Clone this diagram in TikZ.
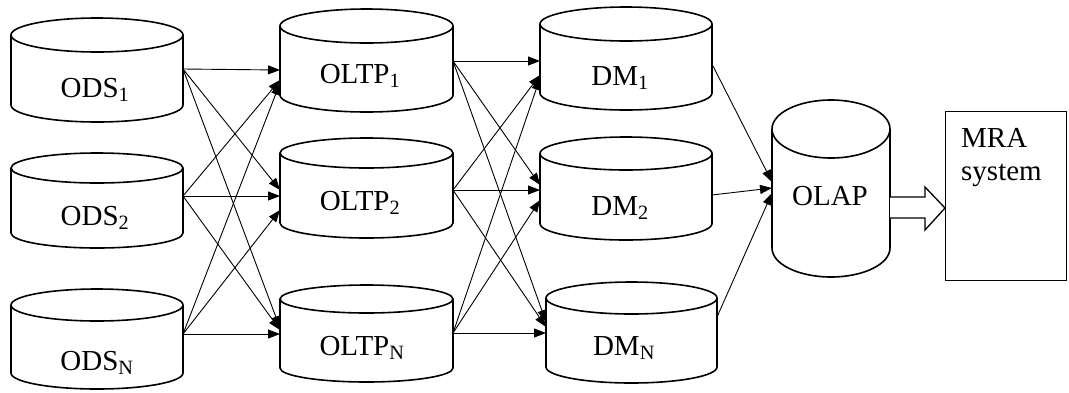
\documentclass[tikz,border=0pt]{standalone}
\usepackage{fontspec}
\setmainfont{Liberation Serif}
\usetikzlibrary{arrows.meta}
\tikzset{
  cylline/.style={line width=1.6pt, draw=black, fill=white},
  conn/.style={line width=0.9pt, -{Triangle[length=12pt,width=9pt]}},
  lbl/.style={font=\fontsize{29}{33}\selectfont, inner sep=0pt, anchor=base},
  pics/dbcyl/.style n args={3}{code={
    \path[cylline] (-#1,{-#2+#3}) -- (-#1,{#2-#3})
      .. controls (-#1,{#2-#3+0.5523*#3}) and ({-0.5523*#1},#2) .. (0,#2)
      .. controls ({0.5523*#1},#2) and (#1,{#2-#3+0.5523*#3}) .. (#1,{#2-#3})
      -- (#1,{-#2+#3});
    \draw[cylline] (0,{-#2+#3}) ellipse [x radius=#1, y radius=#3];
  }}
}
\begin{document}
\begin{tikzpicture}[x=1pt,y=-1pt]
\useasboundingbox (0,0) rectangle (1069,392);
% cylinders
\pic (cods1) at (97,70) {dbcyl={86}{52}{17}};
\pic (cods2) at (97,200.5) {dbcyl={86}{47.5}{15}};
\pic (codsn) at (97,339) {dbcyl={86}{50}{16}};
\pic (coltp1) at (366.5,60.5) {dbcyl={86.5}{51.5}{17}};
\pic (coltp2) at (366.5,188) {dbcyl={86.5}{50}{15}};
\pic (coltpn) at (366.5,333.5) {dbcyl={86.5}{48.5}{14}};
\pic (cdm1) at (626,58.5) {dbcyl={86}{51.5}{17}};
\pic (cdm2) at (626,188.5) {dbcyl={86}{51.5}{16.5}};
\pic (cdmn) at (631.5,332.5) {dbcyl={85.5}{50.5}{16}};
\pic (colap) at (831,188.5) {dbcyl={59}{88.5}{29}};
% labels
\node[lbl] (ods1) at (95,97) {ODS\textsubscript{1}};
\node[lbl] (ods2) at (95,225) {ODS\textsubscript{2}};
\node[lbl] (odsn) at (97,370) {ODS\textsubscript{N}};
\node[lbl] (oltp1) at (360,83) {OLTP\textsubscript{1}};
\node[lbl] (oltp2) at (360,210) {OLTP\textsubscript{2}};
\node[lbl] (oltpn) at (362,355) {OLTP\textsubscript{N}};
\node[lbl] (dm1) at (620,85) {DM\textsubscript{1}};
\node[lbl] (dm2) at (620,215) {DM\textsubscript{2}};
\node[lbl] (dmn) at (624,355) {DM\textsubscript{N}};
\node[lbl] (olap) at (830,205) {OLAP};
% MRA box
\node[draw, line width=1pt, minimum width=121pt, minimum height=169pt, anchor=north west, inner sep=0pt] (mrabox) at (945,111) {};
\node[lbl, anchor=base west, align=left] (mra) at (961,180) {MRA\\system};
% connector points
\coordinate (s1) at (183,69);
\coordinate (s2) at (183,196);
\coordinate (sn) at (183,334);
\coordinate (t11) at (280,70);  \coordinate (t12) at (280,80);  \coordinate (t1n) at (280,83);
\coordinate (t21) at (280,190); \coordinate (t22) at (280,196); \coordinate (t2n) at (280,210);
\coordinate (tn1) at (280,328); \coordinate (tn2) at (280,330); \coordinate (tnn) at (280,334);
\coordinate (p1) at (453,61);
\coordinate (p2) at (453,190);
\coordinate (pn) at (453,333);
\coordinate (d11) at (540,61);  \coordinate (d12) at (540,75);  \coordinate (d1n) at (540,78);
\coordinate (d21) at (540,185); \coordinate (d22) at (540,190); \coordinate (d2n) at (540,200);
\coordinate (dn1) at (546,322); \coordinate (dn2) at (546,327); \coordinate (dnn) at (546,333);
\coordinate (m1) at (713,66);
\coordinate (m2) at (712,195);
\coordinate (mn) at (717,317);
\coordinate (o1) at (772,182);
\coordinate (o2) at (772,188);
\coordinate (on) at (772,193);
% ODS -> OLTP
\draw[conn] (s1) -- (t11); \draw[conn] (s1) -- (t21); \draw[conn] (s1) -- (tn1);
\draw[conn] (s2) -- (t12); \draw[conn] (s2) -- (t22); \draw[conn] (s2) -- (tn2);
\draw[conn] (sn) -- (t1n); \draw[conn] (sn) -- (t2n); \draw[conn] (sn) -- (tnn);
% OLTP -> DM
\draw[conn] (p1) -- (d11); \draw[conn] (p1) -- (d21); \draw[conn] (p1) -- (dn1);
\draw[conn] (p2) -- (d12); \draw[conn] (p2) -- (d22); \draw[conn] (p2) -- (dn2);
\draw[conn] (pn) -- (d1n); \draw[conn] (pn) -- (d2n); \draw[conn] (pn) -- (dnn);
% DM -> OLAP
\draw[conn] (m1) -- (o1); \draw[conn] (m2) -- (o2); \draw[conn] (mn) -- (on);
% hollow arrow OLAP -> MRA
\draw[line width=1.3pt, fill=white, line join=miter] (890,197) -- (925,197) -- (925,187) -- (945,208) -- (925,230) -- (925,218) -- (890,218);
\end{tikzpicture}
\end{document}
